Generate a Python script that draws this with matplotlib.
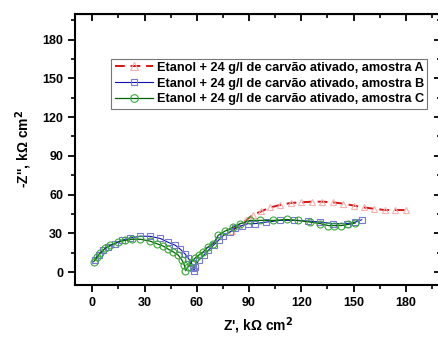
import matplotlib.pyplot as plt
from matplotlib.ticker import MultipleLocator

plt.rcParams['font.family'] = ['Liberation Sans', 'DejaVu Sans']
plt.rcParams['font.weight'] = 'bold'

# amostra A (red triangles)
za_re = [80, 84, 88, 92, 97, 102, 108, 114, 120, 126, 132, 138, 144, 150, 156, 162, 168, 174, 180]
za_im = [32, 36, 40, 44, 47, 50, 52, 53.5, 54, 54.5, 54.5, 54, 53, 51.5, 50, 49, 48, 48, 48]

# amostra B (blue squares)
zb_re = [1.7, 3.6, 6.3, 9.2, 13, 17, 21.8, 27.5, 33, 39, 43.6, 47.6, 50.5, 53.4, 55, 57, 58, 58.5,
         59, 61, 64, 66.7, 69.6, 72.5, 75, 79, 82, 86, 89.5, 93.5, 100, 108, 116, 124, 131, 138,
         146, 151, 154.7]
zb_im = [9.2, 13, 17, 19.5, 22, 24.6, 26.4, 27.7, 27.7, 26, 23, 20.8, 17.7, 13.8, 10.8, 7, 3, 1,
         4, 9, 13, 17, 20.8, 24.6, 28, 31, 33.8, 36, 37.5, 37.5, 38.7, 40, 40, 39.5, 38.7, 37.5,
         37.5, 38.7, 40.5]

# amostra C (green circles)
zc_re = [0.8, 2.7, 4.6, 7.5, 10.3, 15, 19, 22.8, 27.5, 33, 37, 40.8, 43.6, 46.5, 49.4, 51.5, 52.8,
         53.5, 55, 57, 59, 61, 63.7, 66.5, 69.5, 72.3, 76.3, 81, 85, 90.7, 96.4, 104, 111.7, 118,
         125, 131, 135.5, 139, 143, 147, 151]
zc_im = [8, 11.8, 14.8, 18.5, 20.8, 23.3, 24.6, 25.4, 25.4, 24, 22, 20, 17.7, 15.6, 13, 9.2, 5.4,
         1, 4, 8, 10.8, 13, 15.6, 19.5, 22, 28.5, 31.8, 34.8, 37.5, 40, 40, 40, 40.7, 40,
         38.7, 37.5, 36, 36, 36, 36.9, 38]

labels = ['Etanol + 24 g/l de carvão ativado, amostra A',
          'Etanol + 24 g/l de carvão ativado, amostra B',
          'Etanol + 24 g/l de carvão ativado, amostra C']

fig = plt.figure(figsize=(4.38, 3.38), dpi=100)
ax = fig.add_axes([0.171, 0.157, 0.835, 0.802])

ax.plot(za_re, za_im, color='#e01010', ls=(0, (5, 3)), lw=1.4, marker='^', ms=5,
        mfc='none', mec='#f7b0b0', mew=0.8, label=labels[0], zorder=2)
ax.plot(zb_re, zb_im, color='#1010b0', lw=0.8, marker='s', ms=4.5,
        mfc='none', mec='#7878d8', mew=0.8, label=labels[1], zorder=3)
ax.plot(zc_re, zc_im, color='#006400', lw=0.9, marker='o', ms=5,
        mfc='none', mec='#3aa83a', mew=0.8, label=labels[2], zorder=4)

ax.set_xlim(-10, 200)
ax.set_ylim(-10, 200)
ax.set_xticks([0, 30, 60, 90, 120, 150, 180])
ax.set_yticks([0, 30, 60, 90, 120, 150, 180])
ax.xaxis.set_minor_locator(MultipleLocator(15))
ax.yaxis.set_minor_locator(MultipleLocator(15))
ax.tick_params(which='major', direction='out', length=5, width=1.3, labelsize=9)
ax.tick_params(which='minor', direction='out', length=3, width=1.2)
for s in ax.spines.values():
    s.set_linewidth(1.5)

# mirrored ticks pointing inward on top and right
top = ax.secondary_xaxis('top')
top.xaxis.set_major_locator(MultipleLocator(30))
top.xaxis.set_minor_locator(MultipleLocator(15))
top.tick_params(which='major', direction='in', length=5, width=1.3, labeltop=False)
top.tick_params(which='minor', direction='in', length=3, width=1.2)
right = ax.secondary_yaxis('right')
right.yaxis.set_major_locator(MultipleLocator(30))
right.yaxis.set_minor_locator(MultipleLocator(15))
right.tick_params(which='major', direction='in', length=5, width=1.3, labelright=False)
right.tick_params(which='minor', direction='in', length=3, width=1.2)

ax.set_xlabel("Z', k\u03a9 cm$^\\mathbf{2}$", fontsize=10, fontweight='bold', labelpad=5)
ax.set_ylabel("-Z'', k\u03a9 cm$^\\mathbf{2}$", fontsize=10, fontweight='bold', labelpad=6)

leg = ax.legend(loc='upper left', bbox_to_anchor=(0.10, 0.835), fontsize=9.2,
                frameon=True, fancybox=False, edgecolor='#555555', borderpad=0.25,
                handlelength=3.0, handletextpad=0.3, labelspacing=0.3, borderaxespad=0,
                markerscale=1.1)
leg.get_frame().set_linewidth(0.8)

fig.savefig('out.png', dpi=100)
